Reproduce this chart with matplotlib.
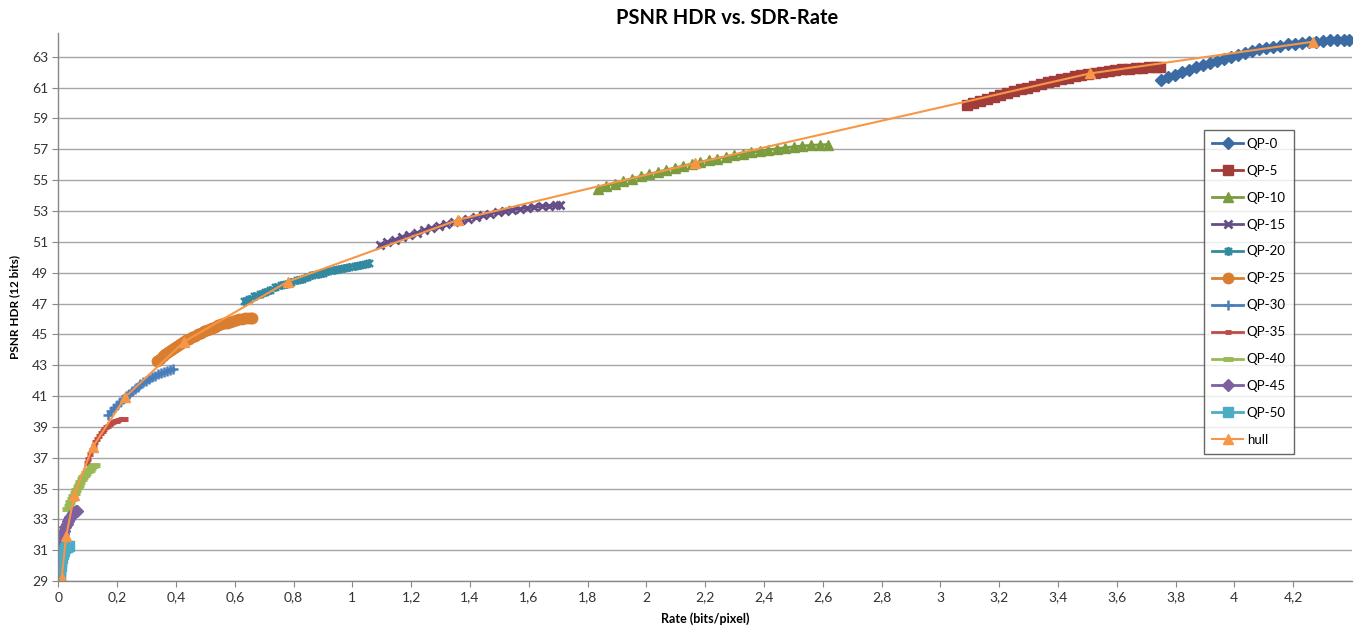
"""
PSNR HDR vs. SDR-Rate chart, one curve per QP plus the convex hull.
"""

import matplotlib.pyplot as plt
import numpy as np
from matplotlib.path import Path
from matplotlib.ticker import FuncFormatter

plt.rcParams["font.family"] = ["Lato", "DejaVu Sans"]

# Rate (bits/pixel) and PSNR HDR (12 bits) per QP
qp0_rate = [3.750, 3.773, 3.797, 3.821, 3.845, 3.869, 3.893, 3.917, 3.941, 3.965,
            3.989, 4.013, 4.037, 4.061, 4.085, 4.109, 4.133, 4.157, 4.181, 4.205,
            4.229, 4.253, 4.277, 4.301, 4.325, 4.349, 4.373, 4.390]
qp0_psnr = [61.52, 61.68, 61.84, 62.00, 62.16, 62.31, 62.45, 62.59, 62.73, 62.88,
            63.01, 63.14, 63.27, 63.37, 63.48, 63.57, 63.65, 63.73, 63.80, 63.86,
            63.91, 63.95, 63.99, 64.03, 64.06, 64.08, 64.09, 64.09]

qp5_rate = [3.089, 3.112, 3.135, 3.158, 3.181, 3.204, 3.227, 3.250, 3.273, 3.296,
            3.319, 3.342, 3.365, 3.388, 3.411, 3.434, 3.457, 3.480, 3.503, 3.526,
            3.549, 3.572, 3.595, 3.618, 3.641, 3.664, 3.687, 3.710, 3.733, 3.747]
qp5_psnr = [59.85, 59.98, 60.11, 60.24, 60.37, 60.50, 60.63, 60.76, 60.89, 61.01,
            61.13, 61.24, 61.35, 61.45, 61.55, 61.64, 61.73, 61.81, 61.89, 61.96,
            62.03, 62.09, 62.15, 62.20, 62.24, 62.27, 62.30, 62.31, 62.32, 62.32]

qp10_rate = [1.835, 1.864, 1.893, 1.922, 1.951, 1.980, 2.009, 2.038, 2.067, 2.096,
             2.125, 2.154, 2.183, 2.212, 2.241, 2.270, 2.299, 2.328, 2.357, 2.386,
             2.415, 2.444, 2.473, 2.502, 2.531, 2.560, 2.589, 2.618]
qp10_psnr = [54.45, 54.62, 54.78, 54.94, 55.09, 55.24, 55.38, 55.52, 55.66, 55.79,
             55.92, 56.05, 56.17, 56.29, 56.40, 56.51, 56.61, 56.71, 56.80, 56.89,
             56.97, 57.04, 57.11, 57.17, 57.22, 57.26, 57.29, 57.31]

qp15_rate = [1.094, 1.119, 1.144, 1.169, 1.194, 1.219, 1.244, 1.269, 1.294, 1.319,
             1.344, 1.369, 1.394, 1.419, 1.444, 1.469, 1.494, 1.519, 1.544, 1.569,
             1.594, 1.619, 1.644, 1.669, 1.694, 1.706]
qp15_psnr = [50.80, 50.98, 51.15, 51.31, 51.46, 51.60, 51.74, 51.88, 52.01, 52.14,
             52.27, 52.40, 52.51, 52.62, 52.72, 52.82, 52.91, 52.99, 53.07, 53.14,
             53.20, 53.25, 53.30, 53.33, 53.36, 53.37]

qp20_rate = [0.630, 0.648, 0.666, 0.684, 0.702, 0.720, 0.738, 0.756, 0.774, 0.792,
             0.810, 0.828, 0.846, 0.864, 0.882, 0.900, 0.918, 0.936, 0.954, 0.972,
             0.990, 1.008, 1.026, 1.044, 1.058]
qp20_psnr = [47.15, 47.32, 47.48, 47.63, 47.77, 47.91, 48.04, 48.17, 48.29, 48.40,
             48.51, 48.62, 48.72, 48.82, 48.91, 49.00, 49.08, 49.16, 49.24, 49.31,
             49.38, 49.44, 49.50, 49.55, 49.60]

qp25_rate = [0.334, 0.344, 0.354, 0.364, 0.374, 0.384, 0.394, 0.404, 0.414, 0.424,
             0.434, 0.444, 0.454, 0.464, 0.474, 0.484, 0.494, 0.504, 0.514, 0.524,
             0.534, 0.544, 0.554, 0.564, 0.574, 0.584, 0.594, 0.604, 0.614, 0.624,
             0.634, 0.644, 0.654, 0.660]
qp25_psnr = [43.28, 43.43, 43.58, 43.72, 43.86, 44.00, 44.13, 44.26, 44.38, 44.50,
             44.61, 44.72, 44.82, 44.92, 45.02, 45.11, 45.20, 45.28, 45.36, 45.44,
             45.51, 45.58, 45.65, 45.71, 45.77, 45.83, 45.88, 45.93, 45.97, 46.00,
             46.03, 46.05, 46.06, 46.05]

qp30_rate = [0.169, 0.179, 0.189, 0.199, 0.209, 0.219, 0.229, 0.239, 0.249, 0.259,
             0.269, 0.279, 0.289, 0.299, 0.309, 0.319, 0.329, 0.339, 0.349, 0.359,
             0.369, 0.379, 0.388]
qp30_psnr = [39.80, 40.02, 40.23, 40.43, 40.62, 40.81, 40.99, 41.16, 41.32, 41.47,
             41.61, 41.75, 41.88, 42.00, 42.11, 42.22, 42.32, 42.41, 42.50, 42.58,
             42.65, 42.72, 42.78]

qp35_rate = [0.096, 0.102, 0.108, 0.114, 0.120, 0.126, 0.132, 0.138, 0.144, 0.150,
             0.156, 0.162, 0.168, 0.174, 0.180, 0.186, 0.192, 0.198, 0.204, 0.212,
             0.220, 0.226]
qp35_psnr = [36.65, 36.95, 37.24, 37.52, 37.78, 38.01, 38.22, 38.41, 38.58, 38.73,
             38.86, 38.98, 39.08, 39.17, 39.24, 39.30, 39.36, 39.40, 39.44, 39.48,
             39.50, 39.51]

qp40_rate = [0.030, 0.035, 0.040, 0.045, 0.050, 0.055, 0.060, 0.065, 0.070, 0.075,
             0.080, 0.085, 0.090, 0.095, 0.100, 0.106, 0.112, 0.118, 0.124]
qp40_psnr = [33.70, 33.90, 34.10, 34.30, 34.50, 34.70, 34.89, 35.08, 35.26, 35.43,
             35.59, 35.74, 35.88, 36.00, 36.11, 36.23, 36.34, 36.44, 36.52]

qp45_rate = [0.004, 0.008, 0.012, 0.016, 0.020, 0.024, 0.028, 0.032, 0.036, 0.040,
             0.045, 0.050, 0.055, 0.060, 0.064]
qp45_psnr = [31.20, 31.50, 31.78, 32.04, 32.28, 32.50, 32.70, 32.88, 33.03, 33.16,
             33.29, 33.39, 33.47, 33.52, 33.55]

qp50_rate = [0.003, 0.004, 0.005, 0.006, 0.007, 0.009, 0.011, 0.014, 0.018, 0.023,
             0.028, 0.033, 0.037]
qp50_psnr = [29.00, 29.25, 29.50, 29.75, 30.00, 30.25, 30.50, 30.75, 30.95, 31.12,
             31.22, 31.28, 31.30]

hull_rate = [0.011, 0.026, 0.054, 0.116, 0.228, 0.428, 0.780, 1.360, 2.165, 3.508, 4.268]
hull_psnr = [29.18, 31.90, 34.58, 37.68, 40.95, 44.53, 48.42, 52.43, 56.10, 61.92, 63.98]

# Excel-like "star" marker: an x with a vertical bar
star = Path(
    [(-1, -1), (1, 1), (-1, 1), (1, -1), (0, -1.3), (0, 1.3)],
    [Path.MOVETO, Path.LINETO, Path.MOVETO, Path.LINETO, Path.MOVETO, Path.LINETO],
)

series = [
    ("QP-0", qp0_rate, qp0_psnr, "#3C6BA4", "D", 6.5, 1.0),
    ("QP-5", qp5_rate, qp5_psnr, "#A23C38", "s", 6.5, 1.0),
    ("QP-10", qp10_rate, qp10_psnr, "#7B9C3F", "^", 7.5, 1.0),
    ("QP-15", qp15_rate, qp15_psnr, "#664D87", "x", 6.0, 2.0),
    ("QP-20", qp20_rate, qp20_psnr, "#3389A0", star, 6.5, 1.8),
    ("QP-25", qp25_rate, qp25_psnr, "#D97D2F", "o", 7.5, 1.0),
    ("QP-30", qp30_rate, qp30_psnr, "#4A7EBB", "+", 7.0, 1.8),
    ("QP-35", qp35_rate, qp35_psnr, "#BE4B48", "_", 4.0, 3.5),
    ("QP-40", qp40_rate, qp40_psnr, "#98B954", "_", 6.5, 3.5),
    ("QP-45", qp45_rate, qp45_psnr, "#7D60A0", "D", 6.0, 1.0),
    ("QP-50", qp50_rate, qp50_psnr, "#4BACC6", "s", 7.0, 1.0),
]

fig = plt.figure(figsize=(13.56, 6.33), dpi=100)
ax = fig.add_axes([0.0431, 0.082, 0.9539, 0.866])

for label, xs, ys, color, marker, ms, mew in series:
    ax.plot(xs, ys, color=color, linewidth=2, marker=marker, markersize=ms,
            markeredgewidth=mew, markerfacecolor=color, markeredgecolor=color,
            label=label)

ax.plot(hull_rate, hull_psnr, color="#F79646", linewidth=1.5, marker="^",
        markersize=7, markerfacecolor="#F79646", markeredgecolor="#F79646",
        label="hull")

ax.set_xlim(0, 4.4)
ax.set_ylim(29, 64.55)
ax.set_xticks(np.arange(0, 4.21, 0.2))
ax.set_yticks(np.arange(29, 63.1, 2))


def comma_fmt(v, pos):
    return f"{v:.1f}".rstrip("0").rstrip(".").replace(".", ",")


ax.xaxis.set_major_formatter(FuncFormatter(comma_fmt))
ax.tick_params(axis="both", labelsize=10, labelcolor="#333333", color="#888888",
               length=4, width=0.8, direction="out")

ax.grid(axis="y", color="#A6A6A6", linewidth=1)
ax.set_axisbelow(True)
for side in ("top", "right"):
    ax.spines[side].set_visible(False)
for side in ("left", "bottom"):
    ax.spines[side].set_color("#888888")
    ax.spines[side].set_linewidth(1)

# Excel centres the title on the chart area, a little right of the plot centre
fig.text(727 / 1356, 1 - 18 / 633, "PSNR HDR vs. SDR-Rate", fontsize=14.5,
         fontweight="bold", ha="center", va="center")
ax.set_xlabel("Rate (bits/pixel)", fontsize=9, fontweight="bold", labelpad=6)
ax.set_ylabel("PSNR HDR (12 bits)", fontsize=8.5, fontweight="bold", labelpad=8)

leg = ax.legend(loc="upper left", bbox_to_anchor=(0.886, 0.823), fontsize=9.5,
                frameon=True, fancybox=False, edgecolor="#404040",
                handlelength=2.3, labelspacing=1.13, borderpad=0.6,
                handletextpad=0.3, borderaxespad=0)
leg.get_frame().set_linewidth(1)

plt.savefig("out.png", dpi=100)
